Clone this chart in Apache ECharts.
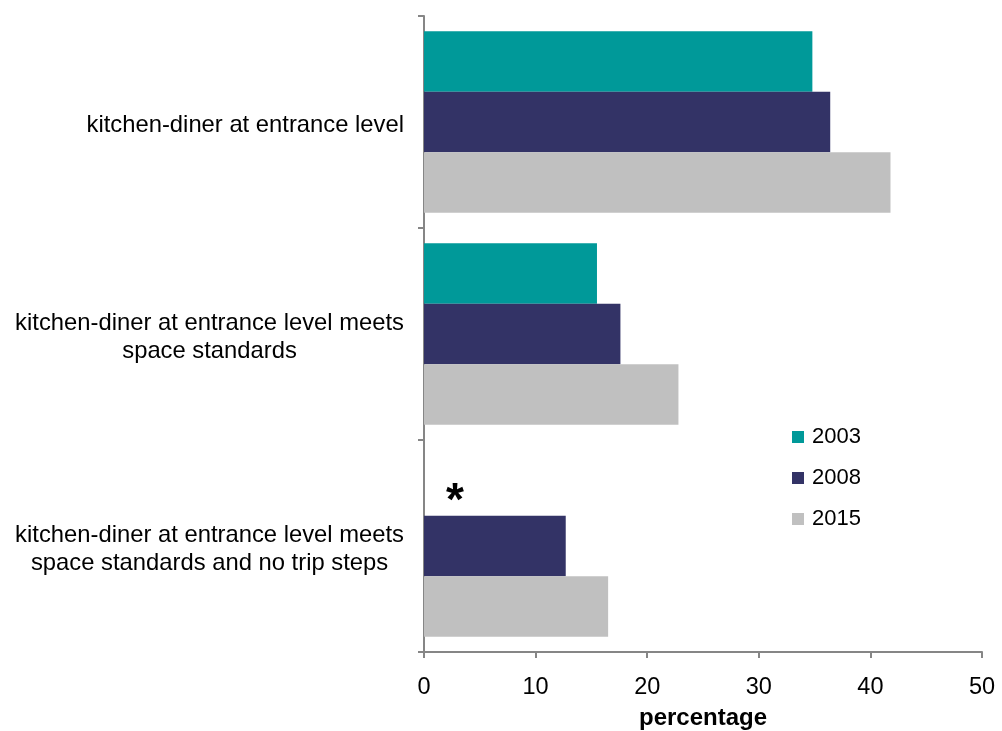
<!DOCTYPE html>
<html><head><meta charset="utf-8">
<script src="https://cdn.jsdelivr.net/npm/echarts@6/dist/echarts.min.js"></script>
<style>html,body{margin:0;padding:0;background:#fff}#c{width:1002px;height:731px}</style>
</head><body><div id="c"></div>
<script>
var categories = [
  'kitchen-diner at entrance level',
  'kitchen-diner at entrance level meets\nspace standards',
  'kitchen-diner at entrance level meets\nspace standards and no trip steps'
];
var seriesNames = ['2003', '2008', '2015'];
var values2003 = [34.8, 15.5, null];
var values2008 = [36.4, 17.6, 12.7];
var values2015 = [41.8, 22.8, 16.5];
var xTicks = [0, 10, 20, 30, 40, 50];
var colors = ['#009999', '#333366', '#C0C0C0'];

var font = 'Liberation Sans, Arial, sans-serif';
var d2003 = values2003.map(function (v) {
  if (v === null) {
    return { value: 0, label: { show: true, formatter: '*', position: 'right', distance: 22, offset: [0, 17],
      fontSize: 46, fontWeight: 'bold', color: '#000', fontFamily: font } };
  }
  return v;
});
function mk(name, data, color) {
  return { name: name, type: 'bar', data: data, barGap: '0%', barCategoryGap: '14.5%',
    itemStyle: { color: color }, emphasis: { disabled: true } };
}
var chart = echarts.init(document.getElementById('c'));
chart.setOption({
  animation: false,
  grid: { left: 424, right: 20, top: 16, bottom: 79, containLabel: false, outerBoundsMode: 'none' },
  legend: {
    orient: 'vertical', left: 787, top: 421, itemWidth: 12, itemHeight: 12, itemGap: 19,
    icon: 'rect', data: seriesNames,
    textStyle: { fontSize: 22, color: '#000', fontFamily: font, padding: [0, 0, 0, 3] }
  },
  xAxis: {
    type: 'value', min: xTicks[0], max: xTicks[xTicks.length - 1], interval: 10,
    name: 'percentage', nameLocation: 'middle', nameGap: 54,
    nameTextStyle: { fontSize: 24, fontWeight: 'bold', color: '#000', fontFamily: font },
    axisLine: { show: true, lineStyle: { color: '#868686', width: 2 } },
    axisTick: { show: true, length: 6, lineStyle: { color: '#868686', width: 2 } },
    axisLabel: { fontSize: 23.5, color: '#000', margin: 24, fontFamily: font },
    splitLine: { show: false }
  },
  yAxis: {
    type: 'category', data: categories, inverse: true,
    axisLine: { show: true, lineStyle: { color: '#868686', width: 2 } },
    axisTick: { show: true, length: 6, lineStyle: { color: '#868686', width: 2 } },
    axisLabel: {
      fontSize: 23.8, color: '#000', margin: 20, fontFamily: font, align: 'right', lineHeight: 28,
      padding: [6, 0, 0, 0],
      formatter: function (v) { return v.split('\n').map(function (l) { return '{c|' + l + '}'; }).join('\n'); },
      rich: { c: { align: 'center', fontSize: 23.8, lineHeight: 28, fontFamily: font, color: '#000' } }
    }
  },
  series: [
    mk(seriesNames[0], d2003, colors[0]),
    mk(seriesNames[1], values2008, colors[1]),
    mk(seriesNames[2], values2015, colors[2])
  ]
});
</script></body></html>
